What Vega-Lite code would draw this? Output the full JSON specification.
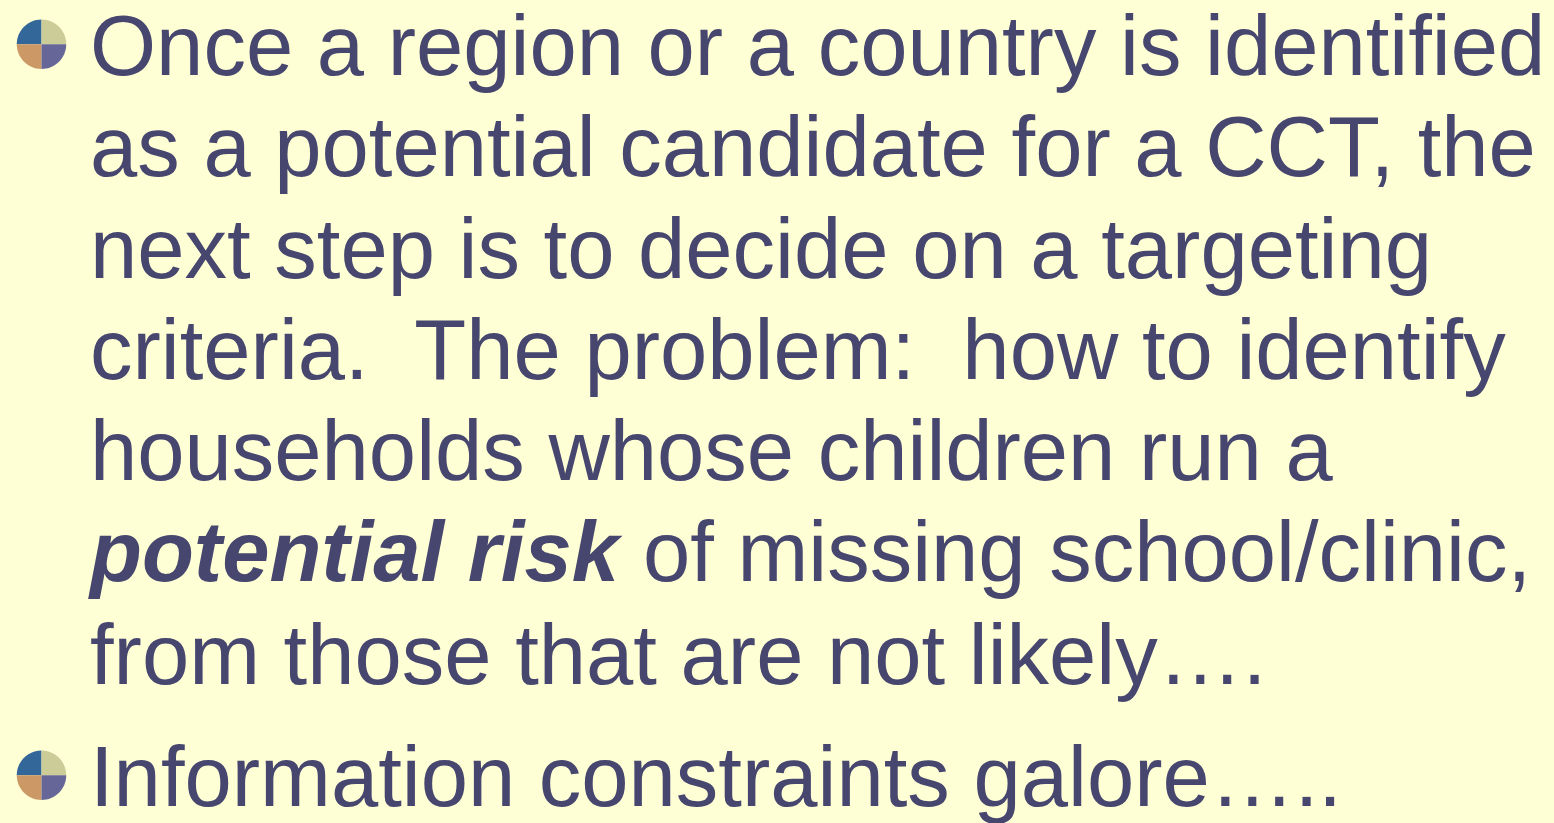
{
  "$schema": "https://vega.github.io/schema/vega-lite/v6.json",
  "width": 1554,
  "height": 823,
  "autosize": {"type": "fit", "contains": "padding"},
  "padding": 0,
  "background": "#FFFFD6",
  "config": {"view": {"stroke": null}},
  "datasets": {
    "lines": [
      {"x": 90, "y": 75, "text": "Once a region or a country is identified", "kind": "normal"},
      {"x": 90, "y": 177, "text": "as a potential candidate for a CCT, the", "kind": "normal"},
      {"x": 90, "y": 279, "text": "next step is to decide on a targeting", "kind": "normal"},
      {"x": 90, "y": 380, "text": "criteria.\u00a0 The problem:\u00a0 how to identify", "kind": "normal"},
      {"x": 90, "y": 482, "text": "households whose children run a", "kind": "normal"},
      {"x": 90, "y": 583, "text": "potential risk", "kind": "bold"},
      {"x": 643, "y": 583, "text": "of missing school/clinic,", "kind": "normal"},
      {"x": 90, "y": 687, "text": "from those that are not likely\u2026.", "kind": "alt"},
      {"x": 90, "y": 809, "text": "Information constraints galore\u2026..", "kind": "alt"}
    ],
    "bullets": [
      {"x": 41.5, "y": 44.5, "q": "tl"},
      {"x": 41.5, "y": 44.5, "q": "tr"},
      {"x": 41.5, "y": 44.5, "q": "bl"},
      {"x": 41.5, "y": 44.5, "q": "br"},
      {"x": 41.5, "y": 778, "q": "tl"},
      {"x": 41.5, "y": 778, "q": "tr"},
      {"x": 41.5, "y": 778, "q": "bl"},
      {"x": 41.5, "y": 778, "q": "br"}
    ]
  },
  "layer": [
    {
      "data": {"name": "bullets"},
      "mark": {"type": "point", "filled": true, "opacity": 1, "strokeWidth": 0, "size": 2450},
      "encoding": {
        "x": {"field": "x", "type": "quantitative", "scale": {"domain": [0, 1554]}, "axis": null},
        "y": {"field": "y", "type": "quantitative", "scale": {"domain": [0, 823], "reverse": true}, "axis": null},
        "shape": {"field": "q", "type": "nominal", "legend": null, "scale": {"domain": ["tl", "tr", "bl", "br"], "range": ["M0,0 L-1,0 A1,1 0 0 1 0,-1 Z", "M0,0 L0,-1 A1,1 0 0 1 1,0 Z", "M0,0 L0,1 A1,1 0 0 1 -1,0 Z", "M0,0 L1,0 A1,1 0 0 1 0,1 Z"]}},
        "color": {"field": "q", "type": "nominal", "legend": null, "scale": {"domain": ["tl", "tr", "bl", "br"], "range": ["#336699", "#CCCC99", "#CC9966", "#666699"]}}
      }
    },
    {
      "data": {"name": "lines"},
      "transform": [{"filter": "datum.kind === 'normal'"}],
      "mark": {"type": "text", "align": "left", "baseline": "alphabetic", "font": "Liberation Sans", "fontSize": 85, "color": "#46466E"},
      "encoding": {
        "x": {"field": "x", "type": "quantitative", "scale": {"domain": [0, 1554]}, "axis": null},
        "y": {"field": "y", "type": "quantitative", "scale": {"domain": [0, 823], "reverse": true}, "axis": null},
        "text": {"field": "text"}
      }
    },
    {
      "data": {"name": "lines"},
      "transform": [{"filter": "datum.kind === 'bold'"}],
      "mark": {"type": "text", "align": "left", "baseline": "alphabetic", "font": "Liberation Sans", "fontSize": 85, "fontWeight": "bold", "fontStyle": "italic", "color": "#46466E"},
      "encoding": {
        "x": {"field": "x", "type": "quantitative", "scale": {"domain": [0, 1554]}, "axis": null},
        "y": {"field": "y", "type": "quantitative", "scale": {"domain": [0, 823], "reverse": true}, "axis": null},
        "text": {"field": "text"}
      }
    },
    {
      "data": {"name": "lines"},
      "transform": [{"filter": "datum.kind === 'alt'"}],
      "mark": {"type": "text", "align": "left", "baseline": "alphabetic", "font": "Liberation Sans", "fontSize": 85, "color": "#46466E"},
      "encoding": {
        "x": {"field": "x", "type": "quantitative", "scale": {"domain": [0, 1554]}, "axis": null},
        "y": {"field": "y", "type": "quantitative", "scale": {"domain": [0, 823], "reverse": true}, "axis": null},
        "text": {"field": "text"}
      }
    }
  ]
}
